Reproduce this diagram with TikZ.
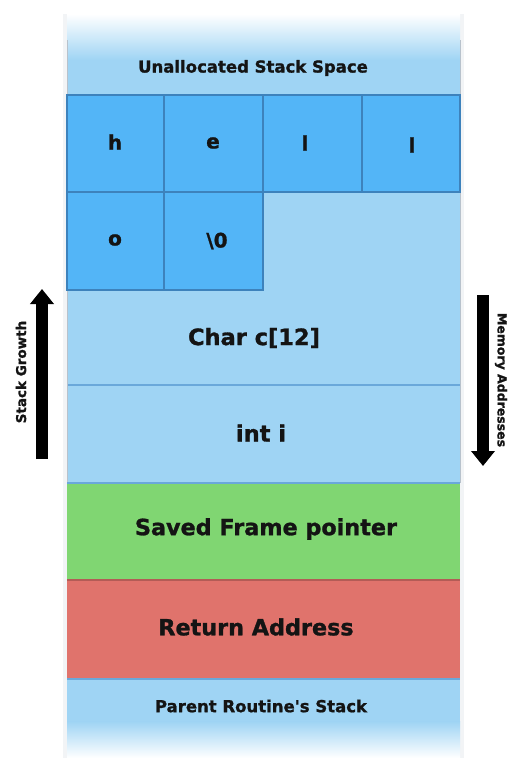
\documentclass[tikz,border=0pt]{standalone}
\usepackage{fontspec}
\setmainfont{DejaVu Sans}[BoldFeatures={FakeBold=1.2}]
\usetikzlibrary{arrows.meta}
\definecolor{skyfill}{HTML}{9FD4F4}
\definecolor{cellfill}{HTML}{53B5F7}
\definecolor{cellline}{HTML}{3D82BC}
\definecolor{rowline}{HTML}{6AA8DA}
\definecolor{framefill}{HTML}{80D672}
\definecolor{retfill}{HTML}{E0736C}
\definecolor{edgegray}{HTML}{B8C2CC}
\tikzset{
  x=1pt, y=-1pt,
  lbl/.style={font=\fontsize{#1}{#1}\selectfont\bfseries, text=black!92, inner sep=0pt},
  lbl/.default=21,
  charcell/.style={draw=cellline, line width=1.6pt, fill=cellfill},
  band/.style={draw=rowline, line width=1.4pt},
  growth/.style={line width=12.5pt, -{Triangle[length=15pt,width=23pt]}, black}
}
\begin{document}
\begin{tikzpicture}
\useasboundingbox (0,0) rectangle (510,758);
\fill[white] (0,0) rectangle (510,758);

% soft side shadows of the stack column
\fill[edgegray!18] (63,14) rectangle (464,758);
\fill[white] (0,0) rectangle (510,12);

% unallocated space (fades out at the top)
\shade[top color=white, bottom color=skyfill] (67,14) rectangle (460,60);
\fill[skyfill] (67,59.5) rectangle (460,95);
\draw[edgegray, line width=1pt] (67,40) -- (67,95) (460,40) -- (460,95);
\node[lbl=16.5] (unalloc) at (253,68) {Unallocated Stack Space};

% the char array region and int i
\fill[skyfill] (67,95) rectangle (460,483);
\draw[band] (67,385) -- (460,385);
\draw[edgegray, line width=1pt] (67,95) -- (67,483) (460,95) -- (460,483);
\node[lbl=22.5] (chararr) at (254,338) {Char c[12]};
\node[lbl=22.5] (inti) at (261,433) {int i};

% character cells
\draw[charcell] (67,95) rectangle (164,192);
\draw[charcell] (164,95) rectangle (263,192);
\draw[charcell] (263,95) rectangle (362,192);
\draw[charcell] (362,95) rectangle (460,192);
\draw[charcell] (67,192) rectangle (164,290);
\draw[charcell] (164,192) rectangle (263,290);
\node[lbl=20] (ch) at (115,142) {h};
\node[lbl=20] (ce) at (213,143) {e};
\node[lbl=20] (cl1) at (305,143) {l};
\node[lbl=20] (cl2) at (412,145) {l};
\node[lbl=20] (co) at (115,240) {o};
\node[lbl=20] (cz) at (217,241) {\textbackslash 0};

% saved frame pointer and return address
\fill[framefill] (67,483) rectangle (460,580);
\draw[band] (67,483) -- (460,483);
\node[lbl=22.3] (sfp) at (266,529) {Saved Frame pointer};
\fill[retfill] (67,580) rectangle (460,678);
\draw[retfill!80!black, line width=1.2pt] (67,580) -- (460,580);
\node[lbl=22.3] (ret) at (256,627) {Return Address};

% parent stack (fades out at the bottom)
\fill[skyfill] (67,678) rectangle (460,722);
\shade[top color=skyfill, bottom color=white] (67,721.5) rectangle (460,758);
\draw[rowline, line width=1.4pt] (67,679) -- (460,679);
\node[lbl=16.5] (parent) at (261,706) {Parent Routine\textquotesingle s Stack};

% direction arrows
\coordinate (gbot) at (42,459);
\coordinate (gtop) at (42,289);
\draw[growth] (gbot) -- (gtop);
\node[lbl=13.5, rotate=90] (growlbl) at (21,372) {Stack Growth};
\coordinate (mtop) at (483,295);
\coordinate (mbot) at (483,466);
\draw[growth] (mtop) -- (mbot);
\node[lbl=12.5, rotate=-90] (memlbl) at (501,380) {Memory Addresses};
\end{tikzpicture}
\end{document}
